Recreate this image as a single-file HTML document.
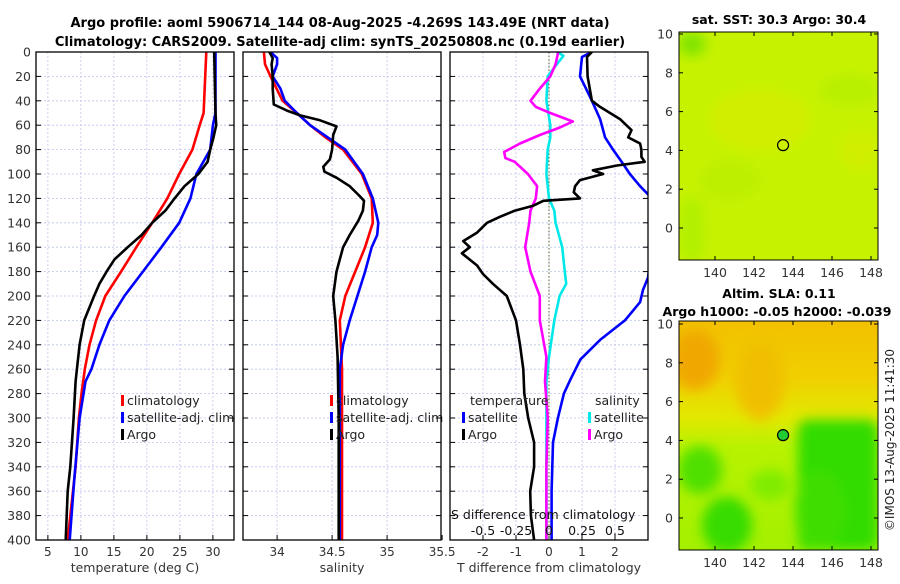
<!DOCTYPE html>
<html><head><meta charset="utf-8">
<style>
html,body{margin:0;padding:0;background:#fff;}
body{width:900px;height:580px;overflow:hidden;font-family:"DejaVu Sans","Liberation Sans",sans-serif;}
svg text{font-family:"DejaVu Sans","Liberation Sans",sans-serif;}
</style></head>
<body>
<svg id="fig" width="900" height="580" viewBox="0 0 900 580" xmlns="http://www.w3.org/2000/svg">
<defs>
<filter id="blur6" x="-50%" y="-50%" width="200%" height="200%"><feGaussianBlur stdDeviation="6"/></filter>
<filter id="blur3" x="-50%" y="-50%" width="200%" height="200%"><feGaussianBlur stdDeviation="3"/></filter>
<clipPath id="clipT"><rect x="36" y="52" width="198" height="488"/></clipPath>
<clipPath id="clipS"><rect x="243" y="52" width="198" height="488"/></clipPath>
<clipPath id="clipD"><rect x="450" y="52" width="198" height="488"/></clipPath>
<clipPath id="clipM1"><rect x="679" y="32" width="199" height="228"/></clipPath>
<clipPath id="clipM2"><rect x="679" y="321" width="199" height="229"/></clipPath>
</defs>
<text x="340" y="27" text-anchor="middle" font-size="13" font-weight="bold">Argo profile: aoml 5906714_144 08-Aug-2025 -4.269S 143.49E (NRT data)</text>
<text x="340" y="46" text-anchor="middle" font-size="13" font-weight="bold">Climatology: CARS2009. Satellite-adj clim: synTS_20250808.nc (0.19d earlier)</text>
<g id="plots"></g>
<g id="maps"></g>
<text transform="translate(894,440) rotate(-90)" text-anchor="middle" font-size="12" fill="#222">©IMOS 13-Aug-2025 11:41:30</text>
</svg>
<script>
// ---- data (depth in m) ----
const tempClimDepth=[0,50,60,80,100,120,140,160,180,200,220,240,260,280,300,340,400];
const tempClim=[29.0,28.6,28.0,26.9,24.9,23.1,20.8,18.4,16.1,13.7,12.3,11.3,10.6,10.1,9.7,9.2,8.0];
const tempSatDepth=[0,50,60,80,100,120,140,160,180,200,220,240,260,270,300,350,400];
const tempSat=[30.4,30.4,30.0,29.6,27.5,26.6,24.9,22.2,19.4,16.6,14.3,12.8,11.6,10.7,9.8,9.0,8.3];
const tempArgoDepth=[0,50,60,70,80,90,100,110,120,130,140,150,160,170,180,190,200,220,240,260,270,300,340,360,400];
const tempArgo=[30.2,30.4,30.5,30.1,29.6,29.2,27.8,25.7,24.2,22.8,20.8,19.2,17.1,15.1,13.9,12.8,12.0,10.5,9.8,9.4,9.2,8.9,8.4,8.0,7.7];

const salClimDepth=[0,10,20,40,50,60,70,80,100,120,140,160,180,200,220,240,260,400];
const salClim=[33.88,33.89,33.94,34.05,34.18,34.30,34.44,34.60,34.77,34.86,34.87,34.80,34.71,34.62,34.57,34.58,34.59,34.59];
const salSatDepth=[0,5,10,20,30,40,50,60,80,100,120,140,150,160,180,200,220,240,260,400];
const salSat=[33.94,34.0,34.0,33.96,34.03,34.07,34.18,34.30,34.62,34.78,34.87,34.92,34.91,34.86,34.80,34.73,34.66,34.60,34.57,34.57];
const salArgoDepth=[0,5,10,20,30,43,48,52,56,61,68,80,88,94,98,103,110,118,122,130,138,150,160,170,180,200,220,250,300,400];
const salArgo=[33.93,33.96,33.95,33.96,33.96,33.97,34.09,34.21,34.39,34.54,34.51,34.50,34.48,34.42,34.43,34.54,34.66,34.75,34.79,34.78,34.74,34.66,34.60,34.57,34.54,34.51,34.53,34.55,34.56,34.56];

const dTArgoDepth=[0,4,20,40,45,55,64,70,75,80,86,90,93,97,100,105,110,115,120,122,126,130,135,140,148,155,160,165,175,182,190,200,220,240,260,280,300,320,340,360,380,400];
const dTArgo=[1.30,1.15,1.17,1.30,1.55,2.15,2.50,2.40,2.76,2.80,2.80,2.90,2.06,1.33,1.64,0.94,0.79,0.75,0.94,-0.17,-0.48,-1.03,-1.48,-1.88,-2.18,-2.60,-2.40,-2.64,-2.18,-2.00,-1.70,-1.28,-1.00,-0.88,-0.78,-0.75,-0.63,-0.45,-0.45,-0.57,-0.55,-0.45];
const dTSatDepth=[0,4,20,30,40,55,70,80,90,100,110,118,175,185,195,205,220,236,252,269,280,300,320,360,400];
const dTSat=[1.30,1.00,0.94,1.12,1.30,1.55,1.70,1.94,2.20,2.45,2.76,3.05,3.05,3.0,2.85,2.76,2.30,1.55,0.95,0.64,0.45,0.27,0.12,0.08,0.08];
const dSSatDepth=[0,3,10,20,40,60,70,80,100,120,130,140,160,180,190,200,220,250,270,300,400];
const dSSat=[0.06,0.11,0.06,-0.01,-0.02,0.01,0.01,-0.01,-0.02,0.0,0.04,0.05,0.10,0.12,0.13,0.08,0.04,0.0,-0.02,-0.02,-0.02];
const dSArgoDepth=[0,10,20,30,40,45,50,57,62,68,75,82,87,90,100,110,120,130,140,160,180,200,220,250,270,300,340,400];
const dSArgo=[0.07,0.05,0.01,-0.07,-0.14,-0.10,0.01,0.18,0.08,-0.07,-0.22,-0.34,-0.33,-0.26,-0.16,-0.09,-0.10,-0.14,-0.15,-0.18,-0.14,-0.07,-0.07,-0.02,-0.03,-0.01,-0.02,-0.02];

const depthTicks=[0,20,40,60,80,100,120,140,160,180,200,220,240,260,280,300,320,340,360,380,400];
const tempTicks=[5,10,15,20,25,30];
const salTicks=[34,34.5,35,35.5];
const dTTicks=[-2,-1,0,1,2];
const dSTicks=[-0.5,-0.25,0,0.25,0.5];
const lonTicks=[140,142,144,146,148];
const latTicks=[0,2,4,6,8,10];
const floatLon=143.49, floatLat=4.27;

// ---- axes ----
const Y0=52, Y1=540;
const yD=d=>Y0+(d/400)*(Y1-Y0);
const xT=t=>36+(t-3.2)*6.6;
const xS=s=>243+(s-33.69)*110;
const xDT=t=>549+t*33;
const xDS=s=>549+s*132;
const NS='http://www.w3.org/2000/svg';
function mk(tag,attrs,parent){const e=document.createElementNS(NS,tag);for(const k in attrs)e.setAttribute(k,attrs[k]);parent.appendChild(e);return e;}
const plots=document.getElementById('plots');

function panel(x0,name,ticks,xf,labels,xlabel){
  const g=mk('g',{},plots);
  
  
  depthTicks.forEach(d=>{ if(d>0&&d<400){const l=mk('line',{x1:x0,x2:x0+198,y1:yD(d),y2:yD(d),stroke:'#b8c4ee','stroke-width':0.8,'stroke-dasharray':'2,2'},g);
    }
    mk('line',{x1:x0,x2:x0+5,y1:yD(d),y2:yD(d),stroke:'#000','stroke-width':1},g);
    mk('line',{x1:x0+193,x2:x0+198,y1:yD(d),y2:yD(d),stroke:'#000','stroke-width':1},g);});
  ticks.forEach((t,i)=>{const x=xf(t);
    if(x>x0+1&&x<x0+197){const l=mk('line',{x1:x,x2:x,y1:Y0,y2:Y1,stroke:'#c8c0e8','stroke-width':0.8,'stroke-dasharray':'2,2'},g);
      }
    mk('line',{x1:x,x2:x,y1:Y1,y2:Y1-5,stroke:'#000'},g);
    const tx=mk('text',{x:x,y:556,'text-anchor':'middle','font-size':12,fill:'#333'},g);tx.textContent=labels[i];
    });
  const xl=mk('text',{x:x0+99,y:572,'text-anchor':'middle','font-size':12.5,fill:'#333'},g);xl.textContent=xlabel;
  
  return g;
}
function frame(x0,g){const r=mk('rect',{x:x0,y:Y0,width:198,height:Y1-Y0,fill:'none',stroke:'#000','stroke-width':1.3},g);
  }
function line(g,depths,vals,xf,color,clip,name,w){
  const pts=depths.map((d,i)=>xf(vals[i]).toFixed(1)+','+yD(d).toFixed(1)).join(' ');
  const p=mk('polyline',{points:pts,fill:'none',stroke:color,'stroke-width':w||2.6,'clip-path':'url(#'+clip+')','stroke-linejoin':'round'},g);
  
}
function legendEntry(g,x,y,color,label,name){
  const e=mk('g',{},g);
  
  
  mk('rect',{x:x,y:y-10,width:3,height:11,fill:color},e);
  const t=mk('text',{x:x+6,y:y,'font-size':12.5,fill:'#222'},e);t.textContent=label;
}

// depth labels
depthTicks.forEach(d=>{const t=mk('text',{x:31,y:yD(d)+4.5,'text-anchor':'end','font-size':12.5,fill:'#333'},plots);t.textContent=d;
  });

// panel 1
const g1=panel(36,'temperature-panel',tempTicks,xT,tempTicks.map(String),'temperature (deg C)');
line(g1,tempClimDepth,tempClim,xT,'#f00','clipT','temp-climatology-line');
line(g1,tempSatDepth,tempSat,xT,'#00f','clipT','temp-satellite-line');
line(g1,tempArgoDepth,tempArgo,xT,'#000','clipT','temp-argo-line');
legendEntry(g1,121,405,'#f00','climatology','legend-climatology');
legendEntry(g1,121,422,'#00f','satellite-adj. clim','legend-satellite');
legendEntry(g1,121,439,'#000','Argo','legend-argo');
frame(36,g1);

// panel 2
const g2=panel(243,'salinity-panel',salTicks,xS,['34','34.5','35','35.5'],'salinity');
line(g2,salClimDepth,salClim,xS,'#f00','clipS','sal-climatology-line');
line(g2,salSatDepth,salSat,xS,'#00f','clipS','sal-satellite-line');
line(g2,salArgoDepth,salArgo,xS,'#000','clipS','sal-argo-line');
legendEntry(g2,330,405,'#f00','climatology','legend-climatology');
legendEntry(g2,330,422,'#00f','satellite-adj. clim','legend-satellite');
legendEntry(g2,330,439,'#000','Argo','legend-argo');
frame(243,g2);

// panel 3
const g3=panel(450,'difference-panel',dTTicks,xDT,['-2','-1','0','1','2'],'T difference from climatology');
const z=mk('line',{x1:549,x2:549,y1:Y0,y2:Y1,stroke:'#556b2f','stroke-width':1,'stroke-dasharray':'1.5,2'},g3);

line(g3,dSSatDepth,dSSat,xDS,'#00e8e8','clipD','sal-diff-satellite-line');
line(g3,dSArgoDepth,dSArgo,xDS,'#f0f','clipD','sal-diff-argo-line');
line(g3,dTSatDepth,dTSat,xDT,'#00f','clipD','temp-diff-satellite-line');
line(g3,dTArgoDepth,dTArgo,xDT,'#000','clipD','temp-diff-argo-line');
{const t=mk('text',{x:470,y:405,'font-size':12.5,fill:'#222'},g3);t.textContent='temperature';
 const s=mk('text',{x:595,y:405,'font-size':12.5,fill:'#222'},g3);s.textContent='salinity';}
legendEntry(g3,462,422,'#00f','satellite','legend-t-satellite');
legendEntry(g3,462,439,'#000','Argo','legend-t-argo');
legendEntry(g3,588,422,'#00e8e8','satellite','legend-s-satellite');
legendEntry(g3,588,439,'#f0f','Argo','legend-s-argo');
{const t=mk('text',{x:451,y:519,'font-size':12.5,fill:'#111'},g3);t.textContent='S difference from climatology';}
dSTicks.forEach(s=>{const t=mk('text',{x:xDS(s),y:535,'text-anchor':'middle','font-size':12.5,fill:'#111'},g3);t.textContent=String(s);
  });
frame(450,g3);

// ---- maps ----
const maps=document.getElementById('maps');
const mx=lon=>715+(lon-140)*19.5;
function mapAxes(g,top,bottom,ly){
  latTicks.forEach(l=>{const y=ly(l);
    mk('line',{x1:679,x2:683,y1:y,y2:y,stroke:'#000'},g);mk('line',{x1:874,x2:878,y1:y,y2:y,stroke:'#000'},g);
    const t=mk('text',{x:673,y:y+4.5,'text-anchor':'end','font-size':12.5,fill:'#333'},g);t.textContent=l;
    });
  lonTicks.forEach(l=>{const x=mx(l);
    mk('line',{x1:x,x2:x,y1:bottom,y2:bottom-4,stroke:'#000'},g);mk('line',{x1:x,x2:x,y1:top,y2:top+4,stroke:'#000'},g);
    const t=mk('text',{x:x,y:bottom+17,'text-anchor':'middle','font-size':12.5,fill:'#333'},g);t.textContent=l;
    });
  mk('rect',{x:679,y:top,width:199,height:bottom-top,fill:'none',stroke:'#000','stroke-width':1},g);
}
// top SST map
const m1=mk('g',{},maps);


const ly1=l=>228-l*19.4;
const c1=mk('g',{'clip-path':'url(#clipM1)'},m1);
mk('rect',{x:679,y:32,width:199,height:228,fill:'#c6f200'},c1);
const b1=mk('g',{filter:'url(#blur6)'},c1);
mk('ellipse',{cx:760,cy:120,rx:50,ry:30,fill:'#d2ee00'},b1);
mk('ellipse',{cx:860,cy:150,rx:20,ry:20,fill:'#d0ee00'},b1);
mk('ellipse',{cx:692,cy:44,rx:14,ry:12,fill:'#80e400'},b1);
mk('ellipse',{cx:850,cy:90,rx:30,ry:15,fill:'#b8f000'},b1);
mk('ellipse',{cx:692,cy:230,rx:12,ry:35,fill:'#b0f000'},b1);
mk('ellipse',{cx:730,cy:180,rx:30,ry:20,fill:'#bcf000'},b1);
{const c=mk('circle',{cx:mx(floatLon),cy:ly1(floatLat),r:5.5,fill:'none',stroke:'#000','stroke-width':1.2},m1);}
mapAxes(m1,32,260,ly1);
{const t=mk('text',{x:779,y:24,'text-anchor':'middle','font-size':12.5,'font-weight':'bold'},m1);t.textContent='sat. SST: 30.3 Argo: 30.4';}

// bottom SLA map
const m2=mk('g',{},maps);


const ly2=l=>518-l*19.4;
const c2=mk('g',{'clip-path':'url(#clipM2)'},m2);
const gr=mk('linearGradient',{id:'slaGrad',x1:0,y1:0,x2:0,y2:1},document.querySelector('defs'));
[['0','#f2c000'],['0.25','#f0d000'],['0.42','#e2e800'],['0.55','#b8f200'],['1','#a4f000']].forEach(s=>mk('stop',{offset:s[0],'stop-color':s[1]},gr));
mk('rect',{x:679,y:321,width:199,height:229,fill:'url(#slaGrad)'},c2);
const b2=mk('g',{filter:'url(#blur6)'},c2);
mk('ellipse',{cx:695,cy:360,rx:25,ry:30,fill:'#f0a800'},b2);
mk('ellipse',{cx:760,cy:380,rx:25,ry:40,fill:'#f0c000'},b2);
mk('rect',{x:798,y:420,width:80,height:130,fill:'#30dc00',rx:10},b2);
mk('ellipse',{cx:700,cy:470,rx:22,ry:24,fill:'#50e000'},b2);
mk('ellipse',{cx:727,cy:525,rx:25,ry:28,fill:'#38dc00'},b2);
mk('ellipse',{cx:770,cy:485,rx:20,ry:15,fill:'#80ec00'},b2);
mk('ellipse',{cx:820,cy:510,rx:25,ry:40,fill:'#40de00'},b2);
{const c=mk('circle',{cx:mx(floatLon),cy:ly2(floatLat),r:5.5,fill:'#22cc33',stroke:'#000','stroke-width':1.2},m2);}
mapAxes(m2,321,550,ly2);
{const t=mk('text',{x:779,y:298,'text-anchor':'middle','font-size':12.5,'font-weight':'bold'},m2);t.textContent='Altim. SLA: 0.11';
 const t2=mk('text',{x:777,y:316,'text-anchor':'middle','font-size':12.5,'font-weight':'bold'},m2);t2.textContent='Argo h1000: -0.05 h2000: -0.039';}
</script>
</body></html>
